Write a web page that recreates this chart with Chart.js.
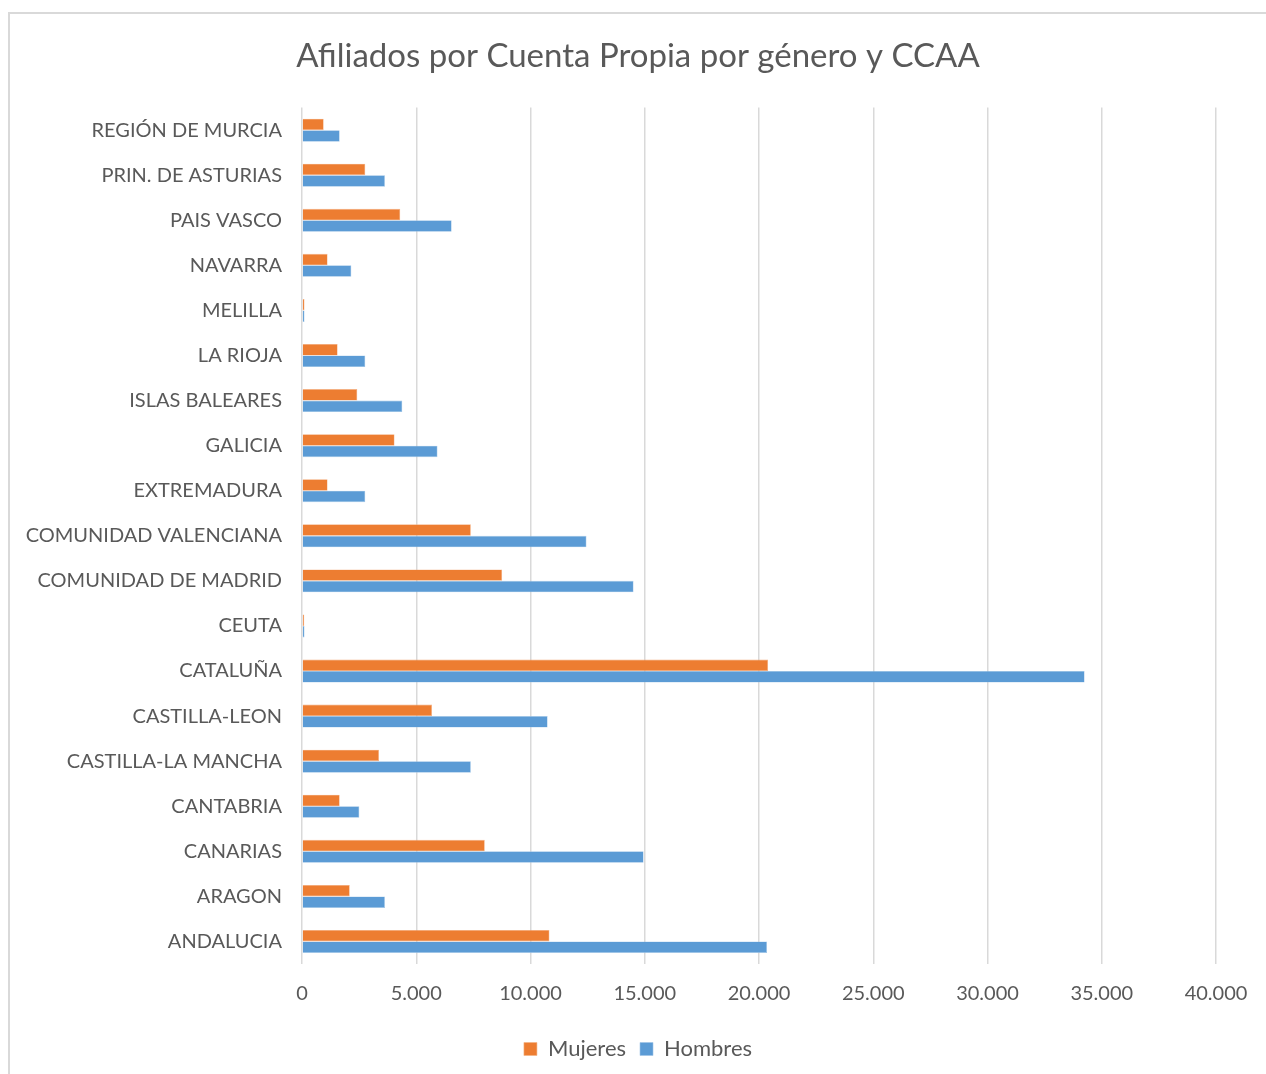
<!DOCTYPE html>
<html>
<head>
<meta charset="utf-8">
<script src="https://cdn.jsdelivr.net/npm/chart.js@4.4.1/dist/chart.umd.min.js"></script>
<style>
  html, body { margin: 0; padding: 0; background: #fff; overflow: hidden; }
  #wrap { position: absolute; left: 8px; top: 12px; width: 1266px; height: 1070px;
          border-left: 2px solid #d9d9d9; border-top: 2px solid #d9d9d9; box-sizing: border-box; }
  #c { display: block; }
</style>
</head>
<body>
<div id="wrap"><canvas id="c" width="1256" height="1060"></canvas></div>
<script>
const categories = [
  "REGIÓN DE MURCIA", "PRIN. DE ASTURIAS", "PAIS VASCO", "NAVARRA", "MELILLA",
  "LA RIOJA", "ISLAS BALEARES", "GALICIA", "EXTREMADURA", "COMUNIDAD VALENCIANA",
  "COMUNIDAD DE MADRID", "CEUTA", "CATALUÑA", "CASTILLA-LEON", "CASTILLA-LA MANCHA",
  "CANTABRIA", "CANARIAS", "ARAGON", "ANDALUCIA"
];
const mujeres = [950, 2770, 4300, 1120, 110, 1560, 2420, 4050, 1120, 7390, 8760, 100, 20400, 5690, 3370, 1650, 8000, 2090, 10830];
const hombres = [1650, 3630, 6550, 2160, 110, 2770, 4390, 5930, 2770, 12450, 14510, 110, 34250, 10750, 7390, 2510, 14950, 3630, 20350];
const xTicks = [0, 5000, 10000, 15000, 20000, 25000, 30000, 35000, 40000];

const fmt = v => v.toString().replace(/\B(?=(\d{3})+(?!\d))/g, ".");
const FONT = "Lato, 'Open Sans', sans-serif";

new Chart(document.getElementById('c'), {
  type: 'bar',
  data: {
    labels: categories,
    datasets: [
      { label: 'Mujeres', data: mujeres, backgroundColor: '#ED7D31', borderColor: '#f4b183', borderWidth: 0.6,
        barPercentage: 1, categoryPercentage: 0.51 },
      { label: 'Hombres', data: hombres, backgroundColor: '#5B9BD5', borderColor: '#9dc3e6', borderWidth: 0.6,
        barPercentage: 1, categoryPercentage: 0.51 }
    ]
  },
  options: {
    indexAxis: 'y',
    responsive: false,
    animation: false,
    layout: { padding: { left: 0, right: 0, top: 0, bottom: 4 } },
    plugins: {
      title: {
        display: true, text: 'Afiliados por Cuenta Propia por género y CCAA',
        color: '#595959', font: { family: FONT, size: 33, weight: 'normal' },
        padding: { top: 23, bottom: 31 }
      },
      legend: {
        position: 'bottom',
        labels: { color: '#595959', font: { family: FONT, size: 22 }, boxWidth: 13, boxHeight: 13, padding: 14 }
      },
      tooltip: { enabled: false }
    },
    scales: {
      x: {
        min: 0, max: 40000,
        afterBuildTicks: s => { s.ticks = xTicks.map(v => ({ value: v })); },
        afterFit: s => { s.paddingRight = 50; },
        grid: { color: '#d9d9d9', lineWidth: 1.5, drawTicks: false },
        border: { display: false },
        ticks: { color: '#595959', font: { family: FONT, size: 20 }, padding: 18, callback: v => fmt(v) }
      },
      y: {
        afterFit: s => { s.width = 292; },
        grid: { display: false, drawTicks: false },
        border: { display: false },
        ticks: { color: '#595959', font: { family: FONT, size: 20 }, padding: 20, autoSkip: false }
      }
    }
  }
});
</script>
</body>
</html>
